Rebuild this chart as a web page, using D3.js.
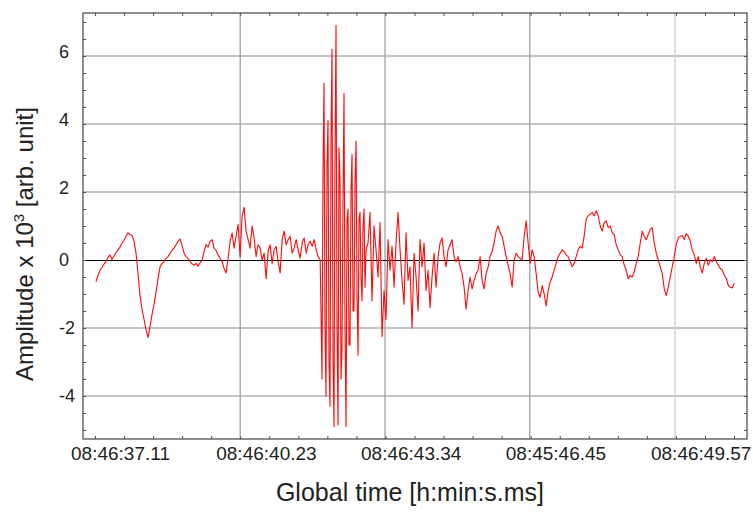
<!DOCTYPE html>
<html lang="en">
<head>
  <meta charset="UTF-8">
  <title>Amplitude vs global time</title>
  <style>
    body { margin: 0; background: #fff; }
    svg text { font-family: "Liberation Sans", Arial, sans-serif; fill: #222; }
  </style>
</head>
<body>
<script src="https://d3js.org/d3.v7.min.js"></script>
<svg id="chart" xmlns="http://www.w3.org/2000/svg" width="753" height="517"></svg>
<script>
  // x ticks: seconds after 08:46:00, and the labels printed under them (as in the figure)
  var tickTimes = [37.11, 40.23, 43.34, 46.45, 49.57];
  var tickLabels = ["08:46:37.11", "08:46:40.23", "08:46:43.34", "08:45:46.45", "08:46:49.57"];
  var ampTicks = [-4, -2, 0, 2, 4, 6];

  // signal, amplitude x 10^3, in three runs of even sampling
  var quietStart = 37.131, quietStep = 0.043;
  var quietAmp = [
    -0.64, -0.45, -0.3, -0.22, -0.12, -0.05, 0.08, 0.15, 0.02, 0.12,
    0.22, 0.3, 0.38, 0.5, 0.58, 0.7, 0.8, 0.75, 0.72, 0.55,
    0.2, -0.4, -1.05, -1.45, -1.75, -2.05, -2.28, -1.95, -1.6, -1.3,
    -0.95, -0.55, -0.2, -0.1, -0.05, 0.05, 0.1, 0.2, 0.28, 0.35,
    0.45, 0.55, 0.62, 0.42, 0.2, 0.1, 0.05, -0.05, -0.12, -0.15,
    -0.1, -0.18, -0.08, -0.02, 0.25, 0.45, 0.38, 0.55, 0.6, 0.35,
    0.28, 0.15, 0.05, -0.05, -0.25, -0.38, 0.05, 0.55, 0.8, 0.35,
    0.7, 1.05, 0.1, 1.3, 1.55, 0.85, 0.6, 0.35, 1.0, 0.65,
    0.1, 0.45, 0.35, 0.0, 0.2, -0.55, 0.25, 0.45, -0.1, 0.3,
    0.4, -0.05, -0.38, 0.6, 0.85, 0.45, 0.6, 0.7, 0.2, 0.35,
    0.6, 0.3, 0.05, 0.5, 0.65, 0.2, 0.45, 0.55, 0.4, 0.6,
    0.3, 0.1, 0.0
  ];

  var burstStart = 41.965, burstStep = 0.0215;
  var burstAmp = [
    -1.5, -3.5, 2.5, 5.2, -2.0, -4.0, 2.8, 4.1, -3.0, -4.3,
    3.5, 6.2, -3.0, -4.9, 3.0, 6.9, -2.0, -4.85, 3.3, 2.4,
    -3.5, -2.6, 1.8, 4.9, -2.0, -4.9, 1.2, 1.5, -2.5, -2.5,
    2.0, 3.1, -1.5, -1.5, 2.3, 3.5, -1.0, -2.8, 1.2, 1.4,
    -0.5, -1.2, 1.0, 1.5, -0.8, 0.3
  ];

  var tailStart = 42.975, tailStep = 0.043;
  var tailAmp = [
    0.5, 1.4, -1.2, 1.0, 0.3, -0.5, 1.1, -2.25, -0.9, -1.75,
    0.6, -0.3, 0.4, -0.8, 0.5, 1.4, 0.3, -0.6, -1.3, 0.8,
    -0.6, -0.2, -2.0, 0.2, -0.5, -1.5, 0.6, -0.2, 0.5, -0.9,
    -0.3, -1.4, -0.5, 0.2, -0.8, 0.1, 0.5, 0.65, 0.1, -0.2,
    0.3, 0.45, 0.6, 0.1, -0.05, 0.1, -0.2, -0.4, -0.8, -1.45,
    -0.9, -0.5, -0.85, -0.6, -0.4, -0.3, 0.1, -0.6, -0.85, -0.4,
    -0.2, 0.1, 0.25, 0.5, 0.85, 1.0, 0.8, 0.7, 0.4, 0.1,
    -0.15, -0.4, -0.8, 0.0, 0.2, 0.1, 0.05, 0.0, 0.7, 1.15,
    0.5, -0.1, 0.3, 0.1, -0.4, -0.95, -1.1, -0.75, -1.0, -1.35,
    -0.9, -0.65, -0.5, -0.3, -0.1, 0.1, 0.2, 0.3, 0.25, 0.15,
    0.1, -0.05, -0.2, -0.1, 0.1, 0.3, 0.4, 0.35, 0.7, 1.2,
    1.3, 1.35, 1.4, 1.3, 1.45, 1.3, 1.0, 0.85, 1.1, 1.15,
    0.95, 1.0, 0.8, 0.75, 0.45, 0.3, 0.15, 0.1, -0.15, -0.3,
    -0.55, -0.45, -0.5, -0.35, -0.1, 0.1, 0.5, 0.85, 0.7, 0.6,
    0.75, 0.9, 0.95, 0.5, 0.2, 0.0, -0.2, -0.4, -0.85, -1.05,
    -0.8, -0.5, -0.2, 0.1, 0.45, 0.65, 0.7, 0.72, 0.6, 0.78,
    0.7, 0.55, 0.3, 0.15, -0.1, 0.1, -0.2, -0.38, -0.1, 0.05,
    -0.15, 0.0, -0.05, 0.1, -0.05, -0.15, -0.25, -0.3, -0.45, -0.55,
    -0.75, -0.8, -0.82, -0.68
  ];

  function run(start, step, amps) {
    return amps.map(function(a, i) { return { t: start + i * step, a: a }; });
  }
  var signal = run(quietStart, quietStep, quietAmp)
          .concat(run(burstStart, burstStep, burstAmp))
          .concat(run(tailStart, tailStep, tailAmp));

  var plotL = 83, plotR = 747, plotT = 13, plotB = 439;

  var x = d3.scaleLinear().domain([36.852, 51.117]).range([plotL, plotR]);
  var y = d3.scaleLinear().domain([-5.265, 7.265]).range([plotB, plotT]);

  var svg = d3.select("#chart");

  // grid
  svg.append("g").selectAll("line")
          .data(ampTicks.filter(function(d) { return d !== 0; }))
          .join("line")
          .attr("x1", plotL).attr("x2", plotR)
          .attr("y1", function(d) { return y(d); })
          .attr("y2", function(d) { return y(d); })
          .attr("stroke", "#b0b0b0")
          .attr("stroke-width", 1.5);

  svg.append("g").selectAll("line")
          .data(tickTimes.slice(1))
          .join("line")
          .attr("x1", function(d) { return x(d); })
          .attr("x2", function(d) { return x(d); })
          .attr("y1", plotT).attr("y2", plotB)
          .attr("stroke", function(d, i) { return i === 3 ? "#d6d6d6" : "#adadad"; })
          .attr("stroke-width", 1.5);

  // zero line
  svg.append("line")
          .attr("x1", plotL).attr("x2", plotR)
          .attr("y1", Math.round(y(0)) + 0.5).attr("y2", Math.round(y(0)) + 0.5)
          .attr("stroke", "#000")
          .attr("stroke-width", 1);

  // signal
  var line = d3.line()
          .x(function(d) { return x(d.t); })
          .y(function(d) { return y(d.a); });

  svg.append("path")
          .datum(signal)
          .attr("d", line)
          .attr("fill", "none")
          .attr("stroke", "#ff0a0a")
          .attr("stroke-width", 1.1)
          .attr("stroke-linejoin", "round");

  // minor ticks, pointing inwards on all four sides
  var xStep = (tickTimes[1] - tickTimes[0]) / 5;
  var xMinor = d3.range(tickTimes[0], x.domain()[1], xStep);
  var yMinor = d3.range(-5, 7.01, 0.5);

  svg.append("g")
          .attr("transform", "translate(0," + plotB + ")")
          .call(d3.axisBottom(x).tickValues(xMinor).tickSize(-3).tickFormat(""));
  svg.append("g")
          .attr("transform", "translate(0," + plotT + ")")
          .call(d3.axisTop(x).tickValues(xMinor).tickSize(-3).tickFormat(""));
  svg.append("g")
          .attr("transform", "translate(" + plotL + ",0)")
          .call(d3.axisLeft(y).tickValues(yMinor).tickSize(-3).tickFormat(""));
  svg.append("g")
          .attr("transform", "translate(" + plotR + ",0)")
          .call(d3.axisRight(y).tickValues(yMinor).tickSize(-3).tickFormat(""));

  svg.selectAll(".domain").remove();
  svg.selectAll(".tick line").attr("stroke", "#555");

  // frame
  svg.append("rect")
          .attr("x", plotL).attr("y", plotT)
          .attr("width", plotR - plotL).attr("height", plotB - plotT)
          .attr("fill", "none")
          .attr("stroke", "#444")
          .attr("stroke-width", 1.2);

  // tick labels
  svg.append("g").selectAll("text")
          .data(tickTimes)
          .join("text")
          .attr("x", function(d) { return x(d) - 24; })
          .attr("y", 460)
          .attr("font-size", 19)
          .text(function(d, i) { return tickLabels[i]; });

  svg.append("g").selectAll("text")
          .data(ampTicks)
          .join("text")
          .attr("x", 59)
          .attr("y", function(d) { return y(d) + (d > 0 ? 2 : 6); })
          .attr("font-size", 18)
          .text(function(d) { return d; });

  // axis titles
  svg.append("text")
          .attr("x", 410)
          .attr("y", 501)
          .attr("text-anchor", "middle")
          .attr("font-size", 25)
          .text("Global time [h:min:s.ms]");

  var yTitle = svg.append("text")
          .attr("transform", "translate(33,244) rotate(-90)")
          .attr("text-anchor", "middle")
          .attr("font-size", 24);
  yTitle.append("tspan").text("Amplitude x 10");
  yTitle.append("tspan").attr("dy", -9).attr("font-size", 15).text("3");
  yTitle.append("tspan").attr("dy", 9).text(" [arb. unit]");
</script>
</body>
</html>
